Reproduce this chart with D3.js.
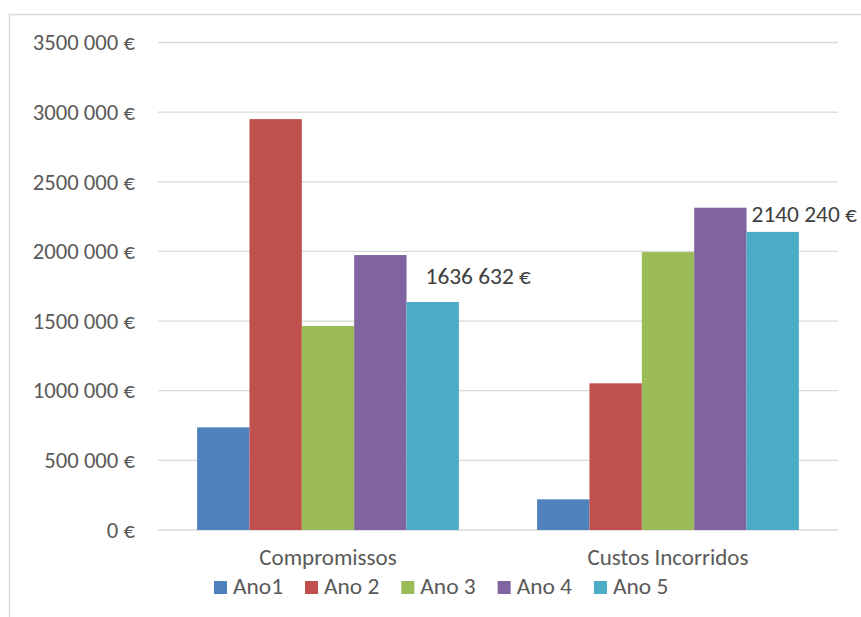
<!DOCTYPE html>
<html>
<head>
<meta charset="utf-8">
<script src="https://cdn.jsdelivr.net/npm/d3@7"></script>
<style>
  body { margin: 0; background: #fff; }
  svg { display: block; font-family: Carlito, Calibri, Lato, sans-serif; }
</style>
</head>
<body>
<div id="chart"></div>
<script>
var categories = ["Compromissos", "Custos Incorridos"];
var series = ["Ano1", "Ano 2", "Ano 3", "Ano 4", "Ano 5"];
var colors = ["#4F81BD", "#C0504D", "#9BBB59", "#8064A2", "#4BACC6"];
// values per series, one per category
var ano1 = [737000, 220000];
var ano2 = [2950000, 1053000];
var ano3 = [1465000, 1995000];
var ano4 = [1974000, 2314000];
var ano5 = [1636632, 2140240];
var yTicks = [0, 500000, 1000000, 1500000, 2000000, 2500000, 3000000, 3500000];

var values = [ano1, ano2, ano3, ano4, ano5];

var width = 861, height = 617;
var margin = {top: 42.5, right: 23, bottom: 87, left: 158};

var svg = d3.select("#chart")
  .append("svg")
    .attr("width", width)
    .attr("height", height);

// outer chart border (runs off the picture on right and bottom)
svg.append("rect")
  .attr("x", 9.5)
  .attr("y", 14.5)
  .attr("width", 900)
  .attr("height", 700)
  .attr("fill", "none")
  .attr("stroke", "#d9d9d9")
  .attr("stroke-width", 1.5);

var x0 = d3.scaleBand()
  .domain(categories)
  .range([margin.left, width - margin.right])
  .paddingInner(0.23)
  .paddingOuter(0.115);

var x1 = d3.scaleBand()
  .domain(series)
  .range([0, x0.bandwidth()]);

var y = d3.scaleLinear()
  .domain([0, 3500000])
  .range([height - margin.bottom, margin.top]);

function fmt(v) {
  if (v === 0) return "0 €";
  var s = String(v);
  var last = s.slice(-3);
  return s.slice(0, -3) + " " + last + " €";
}

// gridlines
svg.append("g")
  .selectAll("line")
  .data(yTicks)
  .enter()
  .append("line")
    .attr("x1", margin.left)
    .attr("x2", width - margin.right)
    .attr("y1", function (d) { return y(d); })
    .attr("y2", function (d) { return y(d); })
    .attr("stroke", "#d9d9d9")
    .attr("stroke-width", 1.3);

// y axis labels
var yAxis = d3.axisLeft(y)
  .tickValues(yTicks)
  .tickSize(0)
  .tickPadding(23)
  .tickFormat(fmt);

svg.append("g")
  .attr("transform", "translate(" + margin.left + ",0)")
  .call(yAxis)
  .call(function (g) { g.select(".domain").remove(); })
  .selectAll("text")
    .attr("fill", "#595959")
    .style("font-size", "22.7px")
    .style("font-family", "Carlito, Calibri, Lato, sans-serif");

// bars
var groups = svg.append("g")
  .selectAll("g")
  .data(categories)
  .enter()
  .append("g")
    .attr("transform", function (d) { return "translate(" + x0(d) + ",0)"; });

groups.selectAll("rect")
  .data(function (d, i) {
    return series.map(function (s, j) { return {s: s, v: values[j][i], c: colors[j]}; });
  })
  .enter()
  .append("rect")
    .attr("x", function (d) { return x1(d.s); })
    .attr("y", function (d) { return y(d.v); })
    .attr("width", x1.bandwidth())
    .attr("height", function (d) { return y(0) - y(d.v); })
    .attr("fill", function (d) { return d.c; });

// data labels for Ano 5 (moved by hand in the original)
var labelShift = [[19, -18], [5, -10]];
categories.forEach(function (c, i) {
  svg.append("text")
    .attr("x", x0(c) + x1("Ano 5") + labelShift[i][0])
    .attr("y", y(ano5[i]) + labelShift[i][1])
    .attr("fill", "#404040")
    .style("font-size", "23.4px")
    .text(fmt(ano5[i]));
});

// category labels
svg.append("g")
  .selectAll("text")
  .data(categories)
  .enter()
  .append("text")
    .attr("x", function (d) { return x0(d) + x0.bandwidth() / 2; })
    .attr("y", 565)
    .attr("text-anchor", "middle")
    .attr("fill", "#595959")
    .style("font-size", "23px")
    .text(function (d) { return d; });

// legend
var legend = svg.append("g").attr("transform", "translate(214,581)");
var lx = 0;
series.forEach(function (s, i) {
  var item = legend.append("g").attr("transform", "translate(" + lx + ",0)");
  item.append("rect")
    .attr("width", 13)
    .attr("height", 13)
    .attr("fill", colors[i]);
  var t = item.append("text")
    .attr("x", 19)
    .attr("y", 13)
    .attr("fill", "#595959")
    .style("font-size", "23.4px")
    .text(s);
  lx += 19 + t.node().getComputedTextLength() + 22;
});
</script>
</body>
</html>
